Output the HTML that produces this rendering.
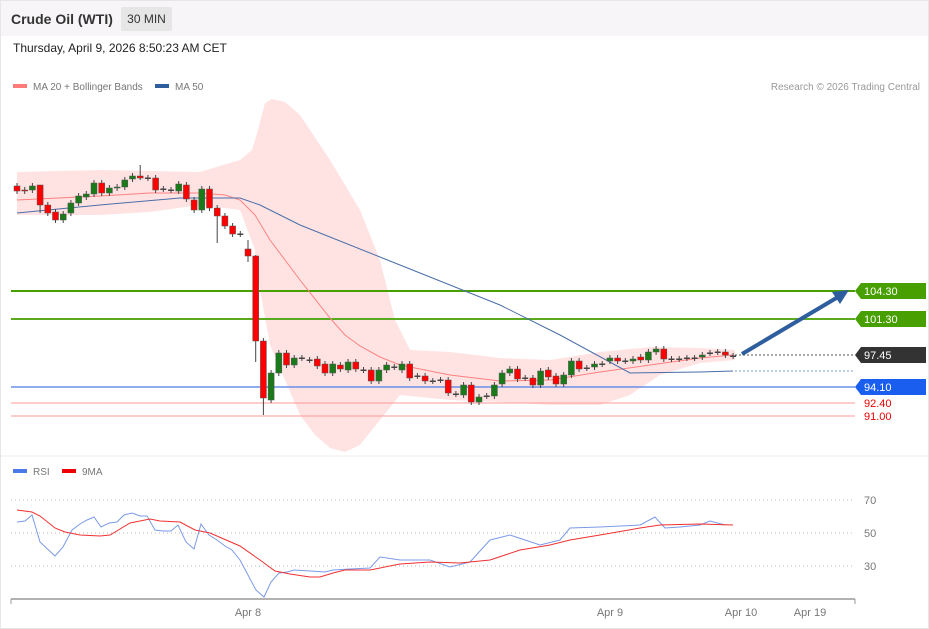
<!DOCTYPE html>
<html><head><meta charset="utf-8"><style>
html,body{margin:0;padding:0;background:#fff;}
body{width:929px;height:629px;position:relative;overflow:hidden;font-family:"Liberation Sans",sans-serif;}
.frame{position:absolute;left:0;top:0;width:927px;height:627px;border:1px solid #e6e6e6;}
.hdr{position:absolute;left:1px;top:1px;width:927px;height:35px;background:#f7f5f7;}
.t{position:absolute;white-space:nowrap;}
</style></head><body>
<div class="frame"></div>
<div class="hdr"></div>
<div class="t" style="left:11px;top:11px;font-size:14px;font-weight:bold;color:#333;">Crude Oil (WTI)</div>
<div class="t" style="left:121px;top:7px;width:51px;height:24px;background:#e6e6e6;border-radius:2px;font-size:12px;color:#333;line-height:24px;text-align:center;">30 MIN</div>
<div class="t" style="left:13px;top:41px;font-size:12px;color:#222;">Thursday, April 9, 2026 8:50:23 AM CET</div>
<svg width="929" height="629" style="position:absolute;left:0;top:0" id="s">
<g font-family="Liberation Sans, sans-serif" font-size="10" fill="#777">
<rect x="13" y="84" width="14" height="4" fill="#ff7b7b"/><text x="33" y="90">MA 20 + Bollinger Bands</text>
<rect x="155" y="84" width="14" height="4" fill="#2f5e9e"/><text x="175" y="90">MA 50</text>
<text x="920" y="90" text-anchor="end" fill="#999">Research © 2026 Trading Central</text>
<rect x="13" y="469" width="14" height="4" fill="#4a7ae8"/><text x="33" y="475">RSI</text>
<rect x="62" y="469" width="14" height="4" fill="#e00"/><text x="82" y="475">9MA</text>
</g>
<path d="M17,172 L100,170 L200,172 L240,160 L252,150 L258,130 L265,103 L272,99 L285,102 L300,115 L330,160 L360,210 L380,260 L395,320 L410,350 L450,352 L500,358 L550,360 L600,352 L650,347 L700,348 L735,350 L735,360 L700,363 L660,375 L630,395 L600,405 L550,405 L500,402 L450,400 L400,395 L380,420 L360,445 L345,452 L330,448 L315,435 L300,415 L285,380 L270,345 L260,290 L255,250 L240,210 L200,205 L150,212 L100,215 L17,215 Z" fill="#ffdede" opacity="0.85"/>
<line x1="1" y1="456" x2="928" y2="456" stroke="#eee"/>
<line x1="11" y1="291" x2="855" y2="291" stroke="#48a000" stroke-width="2"/>
<line x1="11" y1="319" x2="855" y2="319" stroke="#5aaa20" stroke-width="2"/>
<line x1="11" y1="387" x2="855" y2="387" stroke="#6a90e8" stroke-width="1.5"/>
<line x1="11" y1="403" x2="855" y2="403" stroke="#ff9a9a" stroke-width="1"/>
<line x1="11" y1="416" x2="855" y2="416" stroke="#ff9a9a" stroke-width="1"/>
<line x1="735" y1="355" x2="855" y2="355" stroke="#555" stroke-dasharray="2,2"/>
<line x1="735" y1="371" x2="855" y2="371" stroke="#7a9ad8" stroke-dasharray="2,2"/>
<polyline fill="none" stroke="#ff8080" stroke-width="1" points="17,200 100,196 150,193 200,193 225,195 240,200 255,215 270,240 300,280 330,318 345,335 360,346 380,357 400,365 450,375 500,381 550,380 600,372 650,365 700,358 733,355"/>
<polyline fill="none" stroke="#4a6ea8" stroke-width="1" points="17,213 100,205 180,198 240,198 260,205 300,225 400,265 500,305 560,335 630,373 700,372 733,371"/>
<g id="c"></g>
<line x1="742" y1="354" x2="838" y2="297" stroke="#2f5e9e" stroke-width="4"/>
<polygon points="849,290 832,292 840,304" fill="#2f5e9e"/>
<g font-family="Liberation Sans, sans-serif" font-size="11">
<polygon points="855,291 861,283 926,283 926,299 861,299" fill="#48a000"/><text x="864" y="295" fill="#fff">104.30</text>
<polygon points="855,319 861,311 926,311 926,327 861,327" fill="#48a000"/><text x="864" y="323" fill="#fff">101.30</text>
<polygon points="855,355 861,347 926,347 926,363 861,363" fill="#333"/><text x="864" y="359" fill="#fff">97.45</text>
<polygon points="855,387 861,379 926,379 926,395 861,395" fill="#1a5ef0"/><text x="864" y="391" fill="#fff">94.10</text>
<text x="864" y="407" fill="#e00">92.40</text>
<text x="864" y="420" fill="#e00">91.00</text>
<g fill="#777"><text x="864" y="504">70</text><text x="864" y="537">50</text><text x="864" y="570">30</text>
<text x="248" y="616" text-anchor="middle">Apr 8</text><text x="610" y="616" text-anchor="middle">Apr 9</text><text x="741" y="616" text-anchor="middle">Apr 10</text><text x="810" y="616" text-anchor="middle">Apr 19</text></g>
</g>
<g stroke="#bbb" stroke-dasharray="1,3"><line x1="11" y1="500" x2="855" y2="500"/><line x1="11" y1="533" x2="855" y2="533"/><line x1="11" y1="566" x2="855" y2="566"/></g>
<line x1="11" y1="599" x2="855" y2="599" stroke="#999" stroke-width="1.5"/>
<line x1="11" y1="599" x2="11" y2="604" stroke="#999"/><line x1="855" y1="599" x2="855" y2="604" stroke="#999"/>
<polyline fill="none" stroke="#7b9ae8" stroke-width="1" points="17,522 25,521 32,515 40,542 55,556 63,547 72,530 80,524 87,520 94,517 101,527 109,523 117,522 124,515 132,513 140,516 147,516 155,530 163,531 171,531 178,525 186,542 194,549 201,524 209,535 217,540 225,546 232,550 240,560 248,575 256,590 264,597 271,582 279,573 287,572 294,570 310,571 325,572 333,570 350,569 370,568 380,557 400,560 430,560 450,567 470,562 490,540 510,535 525,540 540,545 560,540 570,528 600,527 640,525 655,517 665,528 680,527 700,525 710,521 725,525"/>
<polyline fill="none" stroke="#f03030" stroke-width="1" points="17,510 32,512 40,516 55,528 65,532 80,535 100,536 110,535 130,523 150,519 160,521 180,522 195,530 210,533 240,546 260,560 275,571 290,574 310,577 320,577 333,573 345,570 370,570 400,564 430,562 460,563 490,560 520,550 550,545 570,540 600,535 640,528 660,525 700,524 733,525"/>
</svg>
<script>
var d=[[186,191],[190,191],[190,186],[185,205,185,213],[205,213],[212,220],[220,214],[213,203],[203,196],[197,194],[194,183],[183,193],[193,188],[188,187],[187,180],[179,176],[176,178,165,180],[178,178],[178,190],[189,189],[190,190],[191,184],[185,199],[200,210],[210,189],[189,208],[208,216,205,243],[216,226],[226,234],[234,234],[249,256,240,262],[256,341,255,362],[341,398,338,415],[400,373],[373,353],[353,365],[365,358],[358,358],[360,360],[359,366],[364,373],[373,364],[365,369],[370,362],[362,369],[370,370],[370,381],[381,370],[370,365],[367,367],[370,364],[364,378],[376,376],[376,381],[381,381],[380,380],[380,393],[394,394],[395,385],[385,402],[402,397],[396,396],[396,385],[384,373],[373,369],[369,379],[378,378],[378,385],[385,371],[370,377],[376,384],[384,375],[375,361],[361,369],[368,368],[367,364],[364,364],[361,358],[358,361],[361,361],[361,359],[357,360],[360,352],[352,349],[349,359],[359,359],[359,359],[358,358],[358,358],[357,355],[353,353],[352,352],[352,355],[356,356]];
var g=document.getElementById('c'),h='';
d.forEach(function(c,i){var x=17+i*7.7,o=c[0],cl=c[1],t=Math.min(o,cl),b=Math.max(o,cl);
var hi=c[2]!==undefined?c[2]:t-3,lo=c[3]!==undefined?c[3]:b+3;
var col=cl<o?'#1a7a1a':(cl>o?'#f00':'#333');
h+='<line x1="'+x+'" y1="'+hi+'" x2="'+x+'" y2="'+lo+'" stroke="#444" stroke-width="1"/>';
if(b-t<1)h+='<rect x="'+(x-3)+'" y="'+(t-0.5)+'" width="6" height="1.5" fill="#444"/>';
else h+='<rect x="'+(x-3)+'" y="'+t+'" width="6" height="'+(b-t)+'" fill="'+col+'" stroke="#555" stroke-width="0.5"/>';});
g.innerHTML=h;
</script>
</body></html>
